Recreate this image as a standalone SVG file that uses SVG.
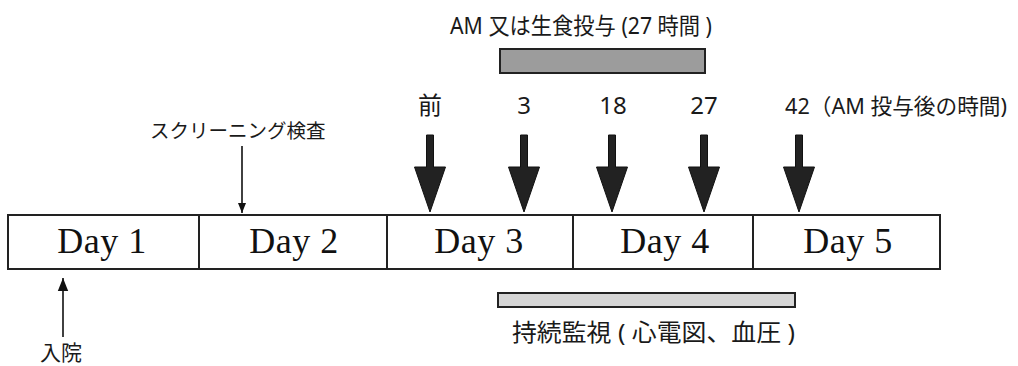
<svg xmlns="http://www.w3.org/2000/svg" width="1018" height="366" viewBox="0 0 1018 366">
<defs>
<style>
.box{fill:#fff;stroke:#222;stroke-width:2}
.day{font-family:"Liberation Serif",serif;font-size:36px;letter-spacing:0.5px;fill:#111;text-anchor:middle}
.jp{font-family:"Noto Sans","Noto Sans CJK JP",sans-serif;fill:#1a1a1a}
.big{fill:#222;stroke:#111;stroke-width:1}
.thin{stroke:#111;stroke-width:1.6;fill:none}
</style>
<marker id="ah" viewBox="0 0 10 10" refX="10" refY="5" markerWidth="10" markerHeight="10" markerUnits="userSpaceOnUse" orient="auto"><path d="M0,1 L10,5 L0,9 z" fill="#111"/></marker>
<marker id="ah2" viewBox="0 0 10 10" refX="10" refY="5" markerWidth="13" markerHeight="13" markerUnits="userSpaceOnUse" orient="auto"><path d="M0,1 L10,5 L0,9 z" fill="#111"/></marker>
</defs>
<rect width="1018" height="366" fill="#fff"/>

<g id="day1"><rect class="box" x="8" y="215" width="191" height="54"/><text class="day" x="102" y="253">Day 1</text></g>
<g id="day2"><rect class="box" x="199" y="215" width="188" height="54"/><text class="day" x="294" y="253">Day 2</text></g>
<g id="day3"><rect class="box" x="387" y="215" width="186" height="54"/><text class="day" x="479" y="253">Day 3</text></g>
<g id="day4"><rect class="box" x="573" y="215" width="180" height="54"/><text class="day" x="665" y="253">Day 4</text></g>
<g id="day5"><rect class="box" x="753" y="215" width="187" height="54"/><text class="day" x="848" y="253">Day 5</text></g>

<g id="dosing">
<text class="jp" x="450" y="34" font-size="23" textLength="262" lengthAdjust="spacingAndGlyphs">AM 又は生食投与 (27 時間 )</text>
<rect x="500" y="49" width="205" height="24" fill="#9c9c9c" stroke="#222" stroke-width="2"/>
</g>

<g id="timepoints" class="jp" font-size="24" text-anchor="middle">
<text x="430" y="114">前</text>
<text x="524" y="114">3</text>
<text x="613" y="114">18</text>
<text x="704" y="114">27</text>
<text x="785" y="114" font-size="22" text-anchor="start" textLength="222" lengthAdjust="spacingAndGlyphs">42（AM 投与後の時間)</text>
</g>

<g id="screening"><text class="jp" x="150" y="138" font-size="19.5">スクリーニング検査</text></g>
<g id="admission"><text class="jp" x="40" y="360" font-size="21">入院</text></g>

<g id="monitoring">
<rect x="498" y="293" width="297" height="14" fill="#d6d6d6" stroke="#222" stroke-width="2"/>
<text class="jp" x="512" y="341" font-size="24" textLength="283" lengthAdjust="spacingAndGlyphs">持続監視 ( 心電図、血圧 )</text>
</g>

<g id="connectors">
<path class="big" d="M426.5,135 h7 v32 h12 l-15.5,45 l-15.5,-45 h12 z"/>
<path class="big" d="M520.5,135 h7 v32 h12 l-15.5,45 l-15.5,-45 h12 z"/>
<path class="big" d="M608.5,135 h7 v32 h12 l-15.5,45 l-15.5,-45 h12 z"/>
<path class="big" d="M700.5,135 h7 v32 h12 l-15.5,45 l-15.5,-45 h12 z"/>
<path class="big" d="M795.5,135 h7 v32 h12 l-15.5,45 l-15.5,-45 h12 z"/>
<line class="thin" x1="242" y1="146" x2="242" y2="213" marker-end="url(#ah)"/>
<line class="thin" x1="63" y1="337" x2="63" y2="278" marker-end="url(#ah2)"/>
</g>
</svg>
